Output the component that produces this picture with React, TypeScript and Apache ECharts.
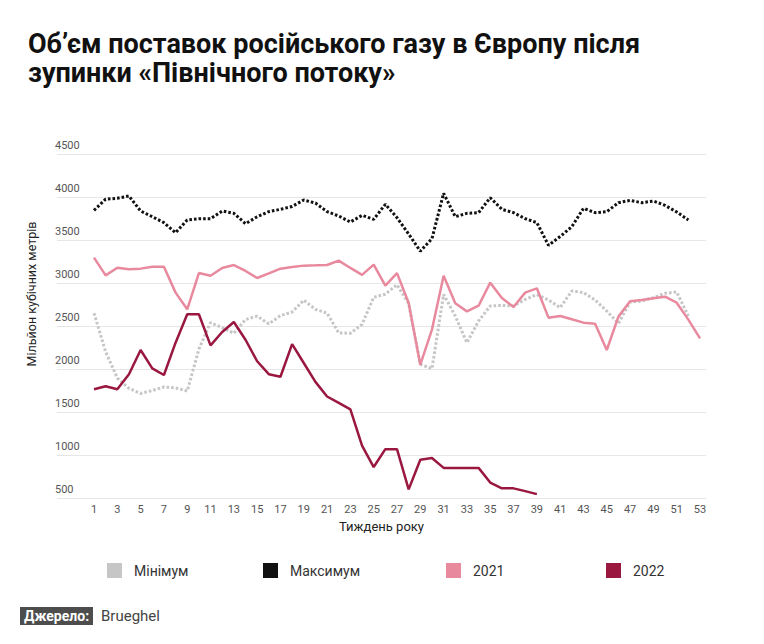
import { useEffect, useRef } from "react";
import * as echarts from "echarts";

const weekTicks = [1, 3, 5, 7, 9, 11, 13, 15, 17, 19, 21, 23, 25, 27, 29, 31, 33, 35, 37, 39, 41, 43, 45, 47, 49, 51, 53];

const minimum = [
  2650, 2200, 1895, 1775, 1716, 1750, 1790, 1780, 1744, 2230, 2540, 2480, 2415, 2575, 2615, 2525, 2620, 2663,
  2800, 2694, 2650, 2420, 2415, 2519, 2835, 2870, 2980, 2760, 2054, 2004, 2868, 2616, 2306, 2558, 2733, 2740,
  2733, 2810, 2865, 2802, 2713, 2907, 2888, 2802, 2674, 2531, 2779, 2790, 2829, 2880, 2895, 2616,
];

const maximum = [
  3845, 3975, 3985, 4012, 3837, 3771, 3702, 3585, 3733, 3748, 3748, 3837, 3810, 3690, 3770, 3830, 3857, 3890,
  3965, 3930, 3830, 3779, 3709, 3787, 3740, 3915, 3760, 3570, 3370, 3515, 4043, 3771, 3810, 3818, 3992, 3857,
  3818, 3748, 3702, 3438, 3540, 3655, 3868, 3818, 3829, 3934, 3961, 3934, 3953, 3903, 3826, 3733,
];

const year2021 = [
  3295, 3089, 3178, 3159, 3167, 3190, 3190, 2888, 2694, 3116, 3085, 3174, 3209, 3140, 3058, 3112, 3167, 3186,
  3202, 3205, 3209, 3260, 3175, 3095, 3213, 2970, 3115, 2768, 2050, 2458, 3085, 2764, 2670, 2736, 3004, 2825,
  2721, 2888, 2938, 2597, 2616, 2578, 2539, 2527, 2221, 2609, 2787, 2802, 2822, 2841, 2771, 2574, 2357,
];

const year2022 = [
  1764, 1800, 1764, 1938, 2221, 2008, 1930, 2306, 2636, 2636, 2275, 2430, 2547, 2340, 2090, 1940, 1910, 2290,
  2070, 1850, 1680, 1606, 1530, 1110, 860, 1068, 1068, 600, 945, 965, 850, 850, 850, 850, 680, 612, 612, 580, 545,
];

const FONT = "Roboto, 'Noto Sans', sans-serif";

const toPoints = (values: number[]) => values.map((v, i) => [i + 1, v]);

export default function App() {
  const chartRef = useRef<HTMLDivElement>(null);

  useEffect(() => {
    if (!chartRef.current) return;
    const chart = echarts.init(chartRef.current, undefined, { renderer: "svg" });

    const legendItem = (name: string, left: number) => ({
      data: [name],
      left,
      top: 558,
      icon: "rect",
      itemWidth: 15,
      itemHeight: 15,
      selectedMode: false,
      textStyle: { color: "#333", fontSize: 14, fontFamily: FONT, padding: [0, 0, 0, 7] },
    });

    const titleStyle = {
      fontSize: 27,
      lineHeight: 29,
      fontWeight: "bold" as const,
      color: "#111",
      fontFamily: FONT,
    };

    const option: echarts.EChartsOption = {
      animation: false,
      backgroundColor: "#fff",
      textStyle: { fontFamily: FONT },
      title: [
        {
          text: "Об’єм поставок російського газу в Європу після",
          left: 28,
          top: 29,
          padding: 0,
          textStyle: titleStyle,
        },
        {
          text: "зупинки «Північного потоку»",
          left: 28,
          top: 58,
          padding: 0,
          textStyle: titleStyle,
        },
      ],
      legend: [
        legendItem("Мінімум", 102),
        legendItem("Максимум", 258),
        legendItem("2021", 441),
        legendItem("2022", 601),
      ],
      grid: { left: 57, right: 58, top: 154, bottom: 146 },
      xAxis: {
        type: "value",
        min: -2.175,
        max: 53.515,
        name: "Тиждень року",
        nameLocation: "middle",
        nameGap: 15,
        nameTextStyle: { color: "#222", fontSize: 13, fontFamily: FONT },
        axisLine: { show: false },
        axisTick: { show: false },
        splitLine: { show: false },
        axisLabel: {
          customValues: weekTicks,
          color: "#555",
          fontSize: 11,
          margin: 6,
          fontFamily: FONT,
        },
      },
      yAxis: {
        type: "value",
        min: 500,
        max: 4500,
        interval: 500,
        axisLine: { show: false },
        axisTick: { show: false },
        splitLine: { lineStyle: { color: "#e6e6e6", width: 1 } },
        axisLabel: {
          formatter: (v: number) => String(v),
          align: "left",
          verticalAlign: "bottom",
          margin: 2,
          padding: [0, 0, 3, 0],
          color: "#555",
          fontSize: 11,
          fontFamily: FONT,
        },
      },
      graphic: [
        {
          type: "text",
          x: 31,
          y: 294,
          rotation: Math.PI / 2,
          style: {
            text: "Мільйон кубічних метрів",
            fill: "#222",
            fontSize: 12.5,
            fontFamily: FONT,
            textAlign: "center",
            textVerticalAlign: "middle",
          },
        },
        {
          type: "rect",
          shape: { x: 20, y: 607, width: 73, height: 18 },
          style: { fill: "#4d4d4d" },
        },
        {
          type: "text",
          x: 24,
          y: 616,
          style: {
            text: "Джерело:",
            fill: "#fff",
            fontSize: 14,
            fontWeight: "bold",
            fontFamily: FONT,
            textVerticalAlign: "middle",
          },
        },
        {
          type: "text",
          x: 101,
          y: 616,
          style: {
            text: "Brueghel",
            fill: "#444",
            fontSize: 15,
            fontFamily: FONT,
            textVerticalAlign: "middle",
          },
        },
      ],
      series: [
        {
          name: "Мінімум",
          type: "line",
          data: toPoints(minimum),
          showSymbol: false,
          itemStyle: { color: "#c6c6c6" },
          lineStyle: { color: "#c6c6c6", width: 3, type: [2.6, 2], cap: "butt" },
        },
        {
          name: "Максимум",
          type: "line",
          data: toPoints(maximum),
          showSymbol: false,
          itemStyle: { color: "#111" },
          lineStyle: { color: "#111", width: 3, type: [2.6, 2], cap: "butt" },
        },
        {
          name: "2021",
          type: "line",
          data: toPoints(year2021),
          showSymbol: false,
          itemStyle: { color: "#e8899e" },
          lineStyle: { color: "#e8899e", width: 2.5 },
        },
        {
          name: "2022",
          type: "line",
          data: toPoints(year2022),
          showSymbol: false,
          itemStyle: { color: "#9a1840" },
          lineStyle: { color: "#9a1840", width: 2.5 },
        },
      ],
    };

    chart.setOption(option);

    return () => {
      chart.dispose();
    };
  }, []);

  return (
    <div
      ref={chartRef}
      style={{ position: "fixed", left: 0, top: 0, width: 764, height: 644 }}
    />
  );
}
